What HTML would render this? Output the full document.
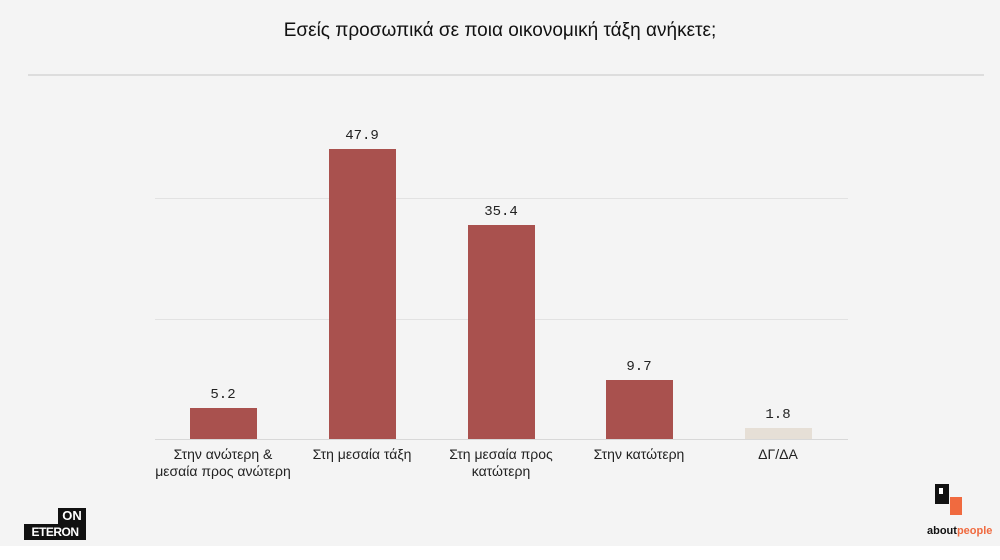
<!DOCTYPE html><html><head><meta charset="utf-8"><style>
body{margin:0;width:1000px;height:560px;background:#fff;font-family:"Liberation Sans","DejaVu Sans",sans-serif;}
.bg{position:absolute;left:0;top:0;width:1000px;height:546px;background:#f4f4f4;}
.t{position:absolute;top:20px;left:0;width:1000px;text-align:center;font-size:19px;color:#111;}
.hr{position:absolute;left:28px;width:956px;top:74px;height:2px;background:#ddd;}
.g{position:absolute;left:155px;width:693px;height:1px;background:#e2e2e2;}
.bar{position:absolute;width:67px;background:#a9514e;}
.v{position:absolute;width:100px;text-align:center;font-family:"Liberation Mono",monospace;font-size:14px;color:#222;}
.l{position:absolute;width:170px;text-align:center;font-size:14px;color:#222;line-height:17px;top:446px;}
</style></head><body>
<div class="bg"></div>
<div class="t">Εσείς προσωπικά σε ποια οικονομική τάξη ανήκετε;</div>
<div class="hr"></div>
<div class="g" style="top:198px"></div>
<div class="g" style="top:319px"></div>
<div class="g" style="top:439px;background:#d8d8d8"></div>
<div class="bar" style="left:190px;top:408px;height:31px"></div>
<div class="bar" style="left:329px;top:149px;height:290px"></div>
<div class="bar" style="left:468px;top:225px;height:214px"></div>
<div class="bar" style="left:606px;top:380px;height:59px"></div>
<div class="bar" style="left:745px;top:428px;height:11px;background:#e6dfd6"></div>
<div class="v" style="left:173px;top:387px">5.2</div>
<div class="v" style="left:312px;top:128px">47.9</div>
<div class="v" style="left:451px;top:204px">35.4</div>
<div class="v" style="left:589px;top:359px">9.7</div>
<div class="v" style="left:728px;top:407px">1.8</div>
<div class="l" style="left:138px">Στην ανώτερη &amp;<br>μεσαία προς ανώτερη</div>
<div class="l" style="left:277px">Στη μεσαία τάξη</div>
<div class="l" style="left:416px">Στη μεσαία προς<br>κατώτερη</div>
<div class="l" style="left:554px">Στην κατώτερη</div>
<div class="l" style="left:693px">ΔΓ/ΔΑ</div>
<div style="position:absolute;left:58px;top:508px;width:28px;height:16px;background:#111;color:#fff;font-weight:bold;font-size:13px;line-height:16px;text-align:center">ON</div>
<div style="position:absolute;left:24px;top:524px;width:62px;height:16px;background:#111;color:#fff;font-weight:bold;font-size:12px;line-height:16px;text-align:center;letter-spacing:-0.5px">ETERON</div>
<div style="position:absolute;left:935px;top:484px;width:14px;height:20px;background:#111"></div>
<div style="position:absolute;left:939px;top:488px;width:4px;height:6px;background:#fff"></div>
<div style="position:absolute;left:950px;top:497px;width:12px;height:18px;background:#f06a3f"></div>
<div style="position:absolute;left:927px;top:525px;width:65px;font-size:11px;font-weight:bold;color:#111">about<span style="color:#f06a3f">people</span></div>
</body></html>
